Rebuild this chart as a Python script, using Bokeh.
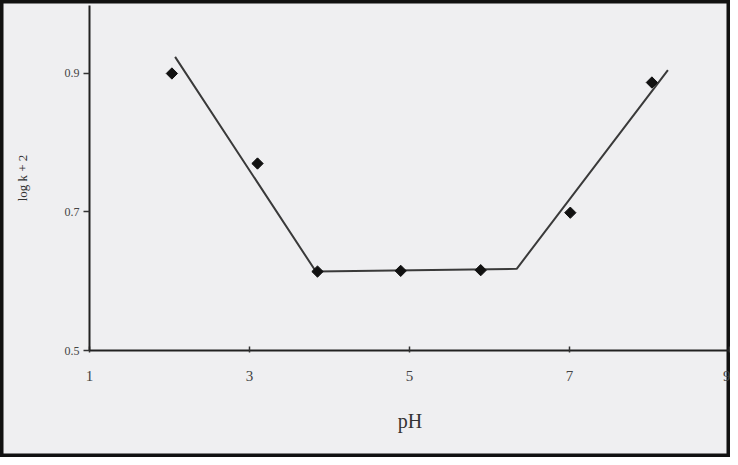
import math
from bokeh.plotting import figure
from bokeh.models import LinearAxis, FixedTicker, Range1d
from bokeh.embed import file_html
from bokeh.resources import INLINE

# Data
ph = [2.03, 3.1, 3.85, 4.89, 5.89, 7.01, 8.03]
logk2 = [0.900, 0.770, 0.614, 0.615, 0.616, 0.699, 0.887]

# fitted piecewise line
fit_ph = [2.07, 3.83, 6.34, 8.23]
fit_logk2 = [0.924, 0.614, 0.618, 0.905]

x_ticks = [1, 3, 5, 7, 9]
y_ticks = [0.5, 0.7, 0.9]

FONT = "Liberation Serif"

p = figure(width=730, height=457,
           x_range=Range1d(-0.1125, 9.0125), y_range=Range1d(0.3455, 1.0054),
           output_backend="svg", toolbar_location=None,
           x_axis_location=None, y_axis_location=None,
           min_border=0)

p.background_fill_color = "#efeff1"
p.border_fill_color = "#efeff1"
p.outline_line_color = "#111111"
p.outline_line_width = 6
p.xgrid.visible = False
p.ygrid.visible = False

yaxis = LinearAxis(fixed_location=1, bounds=(0.5, 0.998),
                   ticker=FixedTicker(ticks=y_ticks),
                   axis_label="log k + 2")
xaxis = LinearAxis(fixed_location=0.5, bounds=(1, 9.05),
                   ticker=FixedTicker(ticks=x_ticks),
                   axis_label="pH")

for ax in (xaxis, yaxis):
    ax.axis_line_color = "#222222"
    ax.axis_line_width = 2
    ax.major_tick_line_color = "#333333"
    ax.major_tick_line_width = 1.5
    ax.minor_tick_line_color = None
    ax.major_label_text_font = FONT
    ax.axis_label_text_font = FONT
    ax.axis_label_text_font_style = "normal"
    ax.major_label_text_color = "#444444"
    ax.axis_label_text_color = "#333333"

yaxis.major_tick_in = 0
yaxis.major_tick_out = 6
yaxis.major_label_standoff = 4
yaxis.major_label_text_font_size = "12px"
yaxis.axis_label_text_font_size = "13px"
yaxis.axis_label_standoff = 32

xaxis.major_tick_in = 4
xaxis.major_tick_out = 2
xaxis.major_label_standoff = 18
xaxis.major_label_text_font_size = "15px"
xaxis.axis_label_text_font_size = "20px"
xaxis.axis_label_standoff = 26

p.add_layout(yaxis, "left")
p.add_layout(xaxis, "below")

p.line(fit_ph, fit_logk2, line_color="#3a3a3a", line_width=2)
p.scatter(ph, logk2, marker="square", angle=math.pi / 4, size=8,
          fill_color="#111111", line_color="#111111", line_width=1)

open("out.html", "w").write(file_html(p, INLINE))
